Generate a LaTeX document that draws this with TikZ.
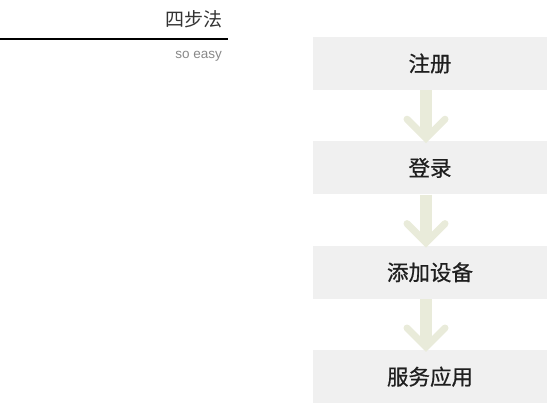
\documentclass[tikz,border=0pt]{standalone}
\usepackage{fontspec}
\setmainfont{Liberation Sans}
\newfontfamily\cjk{Noto Sans CJK SC}
\newfontfamily\cjkbold[FakeBold=0.6]{Noto Sans CJK SC}
\usetikzlibrary{positioning}

\definecolor{boxgray}{HTML}{F0F0F0}
\definecolor{arrowgreen}{HTML}{E9EBDA}
\definecolor{titlegray}{HTML}{333333}
\definecolor{subgray}{HTML}{888888}

\tikzset{
	stepbox/.style = {fill = boxgray, minimum width = 234pt, minimum height = 53pt,
		inner sep = 0pt, font = \cjkbold\fontsize{21.5}{21.5}\selectfont, text = black!88},
	flowshaft/.style = {draw = arrowgreen, line width = 12pt},
	flowhead/.style = {draw = arrowgreen, line width = 7pt}
}

\begin{document}
\begin{tikzpicture}[x = 1pt, y = -1pt]
					\useasboundingbox (0,0) rectangle (553,409);

					% title on the left
					\begin{scope}
						\node [anchor = base east, inner sep = 0pt, text = titlegray,
							font = \cjk\fontsize{19}{19}\selectfont] (title) at (223,27) {四步法};
						\draw [line width = 1.2pt] (0,39) -- (228,39);
						\node [anchor = base east, inner sep = 0pt, text = subgray,
							font = \fontsize{13.5}{13.5}\selectfont] (sub) at (222,59) {so easy};
					\end{scope}

					% the four steps
					\begin{scope}
						\node [stepbox] (register) at (430,63.5) {注册};
						\node [stepbox, below = 51pt of register] (login) {登录};
						\node [stepbox, below = 51pt of login] (adddevice) {添加设备};
						\node [stepbox, below = 51pt of adddevice] (service) {服务应用};
					\end{scope}

					% arrows between them
					\begin{scope}
						\foreach \from/\to in {register/login, login/adddevice, adddevice/service} {
							\draw [flowshaft] ([xshift = -4pt]\from.south) -- ([xshift = -4pt, yshift = 6pt]\to.north);
							\draw [flowhead, line cap = round] ([xshift = -23pt, yshift = 22pt]\to.north)
								-- ([xshift = -4pt, yshift = 3pt]\to.north)
								-- ([xshift = 15pt, yshift = 22pt]\to.north);
						}
					\end{scope}
				\end{tikzpicture}
\end{document}
